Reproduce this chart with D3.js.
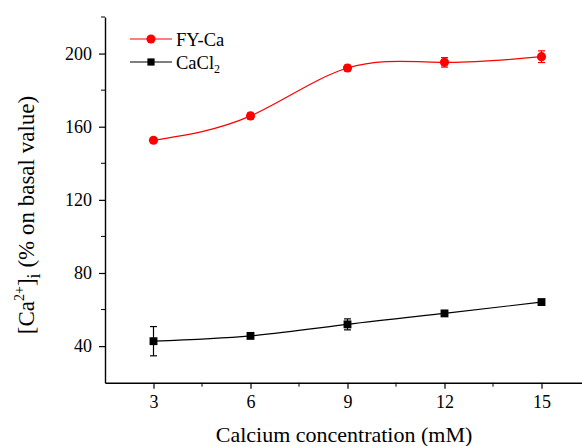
<!DOCTYPE html>
<html>
<head>
<meta charset="utf-8">
<script src="https://cdn.jsdelivr.net/npm/d3@7"></script>
</head>
<body style="margin:0; background:#fff">
<div id="chart"></div>
<script>
const width = 582;
const height = 446;
const serif = "Liberation Serif";

// concentrations (mM)
const conc = [3, 6, 9, 12, 15];
const fyCa = [152.6, 165.9, 192.1, 195.2, 198.3];
const fyCaErr = [1.2, 1.6, 1.5, 2.6, 3.2];
const cacl2 = [42.7, 45.6, 51.9, 57.9, 64.1];
const cacl2Err = [8.0, 1.0, 3.0, 1.4, 1.4];
const xTicks = [3, 6, 9, 12, 15];
const yTicks = [40, 80, 120, 160, 200];

const svg = d3.select("#chart")
    .append("svg")
    .attr("width", width)
    .attr("height", height)
    .attr("font-family", serif)
    .style("display", "block");

const x = d3.scaleLinear().domain([1.5, 16.5]).range([105, 590]);
const y = d3.scaleLinear().domain([20, 220]).range([382.7, 17]);

// axes: major ticks plus minor ticks halfway between
const xAxis = svg.append("g")
    .attr("transform", `translate(0,${y(20)})`);
xAxis.call(d3.axisBottom(x).tickValues(xTicks).tickSize(6).tickPadding(7).tickSizeOuter(0));
xAxis.append("g").selectAll("line")
    .data(d3.range(4.5, 16.5, 3))
    .join("line")
    .attr("x1", d => x(d)).attr("x2", d => x(d))
    .attr("y1", 0).attr("y2", 4)
    .attr("stroke", "#000");

const yAxis = svg.append("g")
    .attr("transform", `translate(${x(1.5)},0)`);
yAxis.call(d3.axisLeft(y).tickValues(yTicks).tickSize(6).tickPadding(7).tickSizeOuter(0));
yAxis.append("g").selectAll("line")
    .data([60, 100, 140, 180, 220])
    .join("line")
    .attr("y1", d => y(d)).attr("y2", d => y(d))
    .attr("x1", 0).attr("x2", -4)
    .attr("stroke", "#000");

svg.selectAll(".domain").attr("stroke", "#000").attr("stroke-width", 1.4);
svg.selectAll(".tick line").attr("stroke", "#000").attr("stroke-width", 1.2);
xAxis.attr("font-family", serif).attr("font-size", 18);
yAxis.attr("font-family", serif).attr("font-size", 18);
svg.selectAll(".tick text").attr("fill", "#000");

const line = d3.line()
    .x(d => x(d[0]))
    .y(d => y(d[1]))
    .curve(d3.curveNatural);

function drawSeries(vals, errs, color, shape) {
    const pts = conc.map((c, i) => [c, vals[i], errs[i]]);
    svg.append("path")
        .datum(pts)
        .attr("fill", "none")
        .attr("stroke", color)
        .attr("stroke-width", 1.2)
        .attr("d", line);

    const eb = svg.append("g").attr("stroke", color).attr("stroke-width", 1.2);
    pts.forEach(p => {
        const cx = x(p[0]);
        eb.append("line").attr("x1", cx).attr("x2", cx).attr("y1", y(p[1] - p[2])).attr("y2", y(p[1] + p[2]));
        eb.append("line").attr("x1", cx - 3.5).attr("x2", cx + 3.5).attr("y1", y(p[1] - p[2])).attr("y2", y(p[1] - p[2]));
        eb.append("line").attr("x1", cx - 3.5).attr("x2", cx + 3.5).attr("y1", y(p[1] + p[2])).attr("y2", y(p[1] + p[2]));
    });

    const sym = d3.symbol().type(shape).size(shape === d3.symbolCircle ? 66 : 62);
    svg.append("g").selectAll("path")
        .data(pts)
        .join("path")
        .attr("transform", d => `translate(${x(d[0])},${y(d[1])})`)
        .attr("d", sym)
        .attr("fill", color);
}

drawSeries(fyCa, fyCaErr, "#ff0000", d3.symbolCircle);
drawSeries(cacl2, cacl2Err, "#000000", d3.symbolSquare);

// legend
const legend = svg.append("g");
const legendItems = [
    { color: "#ff0000", shape: d3.symbolCircle, y: 39 },
    { color: "#000000", shape: d3.symbolSquare, y: 62 }
];
legendItems.forEach(it => {
    legend.append("line")
        .attr("x1", 130).attr("x2", 172)
        .attr("y1", it.y).attr("y2", it.y)
        .attr("stroke", it.color).attr("stroke-width", 1.2);
    legend.append("path")
        .attr("transform", `translate(151,${it.y})`)
        .attr("d", d3.symbol().type(it.shape).size(it.shape === d3.symbolCircle ? 66 : 52))
        .attr("fill", it.color);
});
legend.append("text")
    .attr("x", 176).attr("y", 46)
    .attr("font-family", serif)
    .attr("font-size", 18.5)
    .text("FY-Ca");
const cl = legend.append("text")
    .attr("x", 176).attr("y", 69)
    .attr("font-family", serif)
    .attr("font-size", 18.5);
cl.append("tspan").text("CaCl");
cl.append("tspan").attr("font-size", 12).attr("dy", 4).text("2");

// axis titles
svg.append("text")
    .attr("x", 344).attr("y", 442)
    .attr("text-anchor", "middle")
    .attr("font-family", serif)
    .attr("font-size", 22)
    .text("Calcium concentration (mM)");

const yt = svg.append("text")
    .attr("transform", "translate(34,215) rotate(-90)")
    .attr("text-anchor", "middle")
    .attr("font-family", serif)
    .attr("font-size", 23);
yt.append("tspan").text("[Ca");
yt.append("tspan").attr("font-size", 14).attr("dy", -10).text("2+");
yt.append("tspan").attr("dy", 10).text("]");
yt.append("tspan").attr("font-size", 18).attr("dy", 6).text("i");
yt.append("tspan").attr("dy", -6).text(" (% on basal value)");
</script>
</body>
</html>
